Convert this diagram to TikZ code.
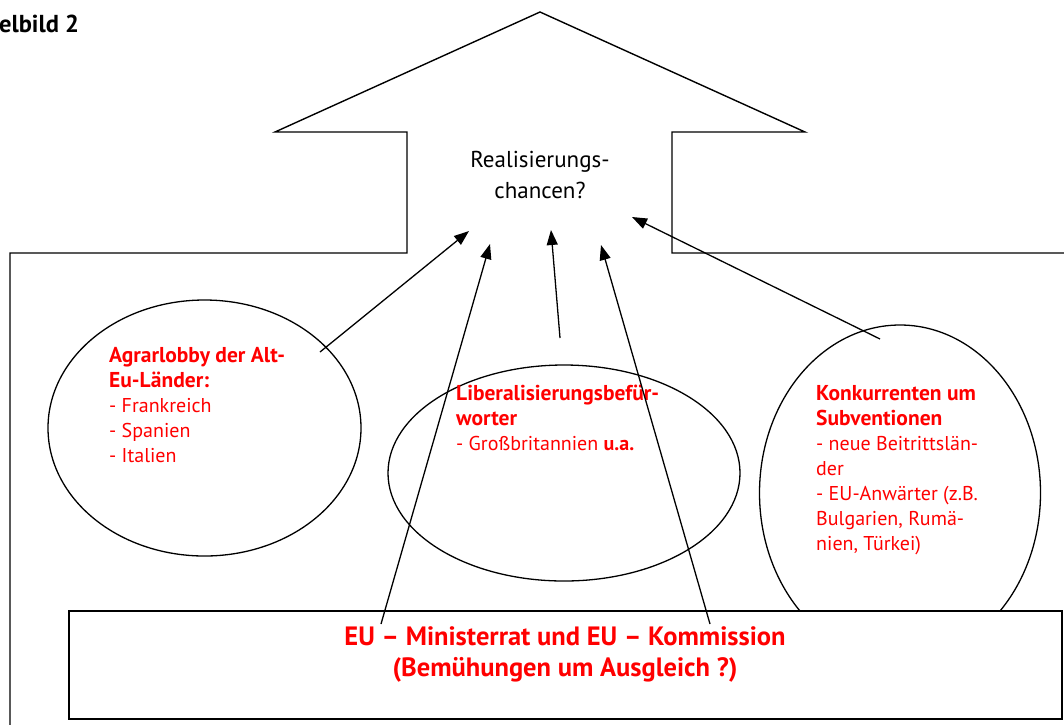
\documentclass[tikz,border=0pt]{standalone}
\usepackage{fontspec}
\setmainfont{PT Sans}
\definecolor{hlred}{RGB}{255,0,0}
\usetikzlibrary{arrows.meta,positioning,shapes.geometric}
\newcommand{\grouphead}[1]{{\fontsize{21.5}{25}\selectfont\bfseries #1}}

\begin{document}
\begin{tikzpicture}[x=1pt, y=-1pt,
  group/.style={draw, ellipse, line width=1.3pt, inner sep=0pt},
  redtext/.style={font=\fontsize{20}{25}\selectfont, text=hlred, align=left, anchor=north west, inner sep=0pt},
  push/.style={-{Triangle[length=15pt,width=11pt]}, line width=1.3pt}]
  \useasboundingbox (0,0) rectangle (1064,724);

  %% Heading, cut off at the left edge
  \node[font=\fontsize{24.5}{28}\selectfont\bfseries, anchor=base west, inner sep=0pt] (heading) at (-1,32) {elbild 2};

  %% House with the roof as arrow
  \draw[line width=1.4pt] (10,727) -- (10,253) -- (407,253) -- (407,132) -- (275,132) -- (540,12)
    -- (805,132) -- (672,132) -- (672,253) -- (1067,253);
  \node[font=\fontsize{23}{31}\selectfont, align=center, anchor=north, inner sep=0pt] (chance) at (540,151) {Realisierungs-\\chancen?};

  %% Agrarlobby
  \node[group, minimum width=313pt, minimum height=256pt] (agrar) at (204.5,428) {};
  \node[redtext] (agrartext) at (109,347.5) {\grouphead{Agrarlobby der Alt-}\\\grouphead{Eu-Länder:}\\- Frankreich\\- Spanien\\- Italien};

  %% Liberalisierung
  \node[group, minimum width=352pt, minimum height=216pt] (liberal) at (564,473) {};
  \node[redtext] (liberaltext) at (456,384.5) {\grouphead{Liberalisierungsbefür-}\\\grouphead{worter}\\- Großbritannien \textbf{u.a.}};

  %% Konkurrenten
  \node[group, minimum width=281pt, minimum height=336pt] (konkurr) at (900,493) {};
  \node[redtext] (konkurrtext) at (816,385.5) {\grouphead{Konkurrenten um}\\\grouphead{Subventionen}\\- neue Beitrittslän-\\der\\- EU-Anwärter (z.B.\\Bulgarien, Rumä-\\nien, Türkei)};

  %% Ministerrat und Kommission
  \node[draw, fill=white, line width=2pt, minimum width=993pt, minimum height=108pt, inner sep=0pt] (rat) at (565.5,665) {};
  \node[font=\fontsize{26.5}{31}\selectfont\bfseries, text=hlred, align=center, anchor=north, inner sep=0pt] (rattext) at (565,626) {EU – Ministerrat und EU – Kommission\\(Bemühungen um Ausgleich ?)};

  %% Arrow ends
  \coordinate (agrar-s) at (320,352);
  \coordinate (agrar-t) at (469,231);
  \coordinate (ratl-s) at (381,624);
  \coordinate (ratl-t) at (490,244);
  \coordinate (liberal-s) at (560,338);
  \coordinate (liberal-t) at (551,230);
  \coordinate (ratr-s) at (710,624);
  \coordinate (ratr-t) at (601,245);
  \coordinate (konkurr-s) at (880,339);
  \coordinate (konkurr-t) at (632,217);

  \draw[push] (agrar-s) -- (agrar-t);
  \draw[push] (ratl-s) -- (ratl-t);
  \draw[push] (liberal-s) -- (liberal-t);
  \draw[push] (ratr-s) -- (ratr-t);
  \draw[push] (konkurr-s) -- (konkurr-t);
\end{tikzpicture}
\end{document}
